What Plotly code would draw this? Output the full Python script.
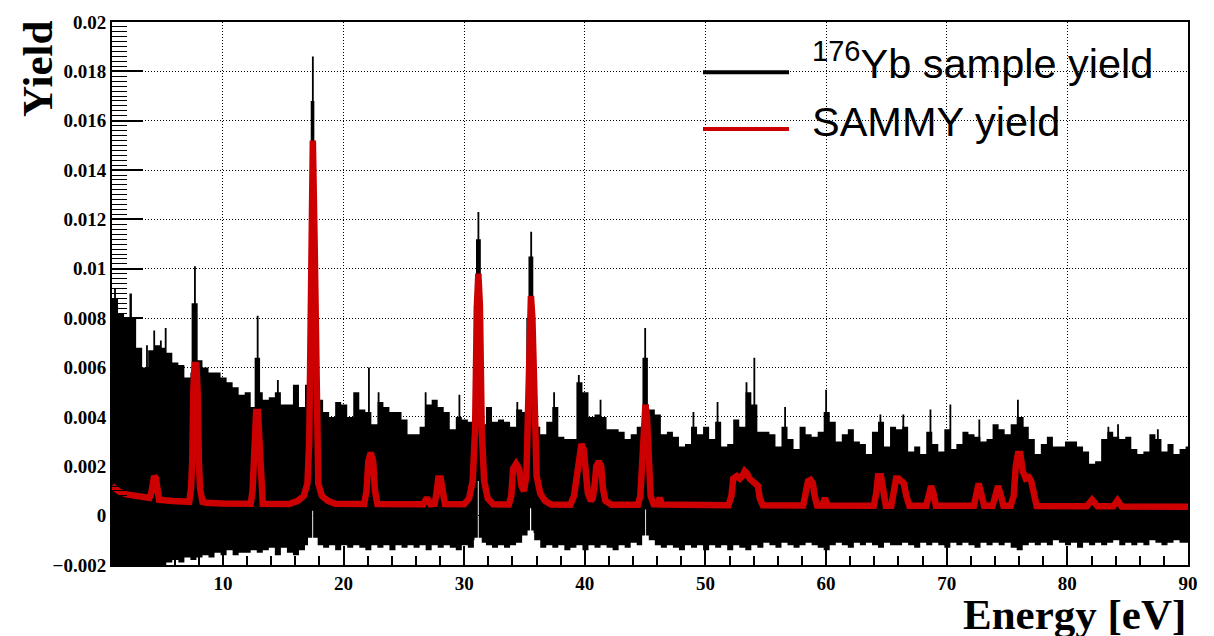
import numpy as np
import plotly.graph_objects as go

# ---------------------------------------------------------------------------
# Measured 176Yb sample yield: upper / lower edge of the error band,
# 0.5 eV bins starting at 0.8 eV
# ---------------------------------------------------------------------------
bin_start = 0.8
bin_width = 0.5

yield_upper = [
    0.0088, 0.0082, 0.0080, 0.0080, 0.0068, 0.0060, 0.0067, 0.0069, 0.0068, 0.0066,
    0.0062, 0.0061, 0.0056, 0.0058, 0.0063, 0.0060, 0.0058, 0.0058, 0.0056, 0.0054,
    0.0052, 0.0049, 0.0050, 0.0044, 0.0050, 0.0047, 0.0048, 0.0050, 0.0045, 0.0045,
    0.0053, 0.0044, 0.0053, 0.0058, 0.0047, 0.0042, 0.0040, 0.0046, 0.0045, 0.0040,
    0.0050, 0.0043, 0.0042, 0.0037, 0.0046, 0.0044, 0.0042, 0.0042, 0.0039, 0.0033,
    0.0033, 0.0036, 0.0045, 0.0047, 0.0044, 0.0042, 0.0035, 0.0040, 0.0039, 0.0038,
    0.0046, 0.0037, 0.0044, 0.0038, 0.0039, 0.0038, 0.0036, 0.0043, 0.0042, 0.0050,
    0.0036, 0.0033, 0.0038, 0.0044, 0.0032, 0.0031, 0.0031, 0.0054, 0.0050, 0.0040,
    0.0041, 0.0040, 0.0035, 0.0035, 0.0034, 0.0031, 0.0033, 0.0036, 0.0045, 0.0043,
    0.0041, 0.0033, 0.0034, 0.0032, 0.0028, 0.0029, 0.0036, 0.0033, 0.0036, 0.0031,
    0.0038, 0.0028, 0.0029, 0.0039, 0.0036, 0.0050, 0.0045, 0.0034, 0.0034, 0.0033,
    0.0028, 0.0036, 0.0031, 0.0027, 0.0036, 0.0033, 0.0032, 0.0034, 0.0042, 0.0038,
    0.0030, 0.0033, 0.0035, 0.0030, 0.0029, 0.0025, 0.0034, 0.0038, 0.0028, 0.0036,
    0.0035, 0.0036, 0.0026, 0.0028, 0.0025, 0.0034, 0.0029, 0.0026, 0.0035, 0.0027,
    0.0029, 0.0034, 0.0033, 0.0032, 0.0030, 0.0031, 0.0037, 0.0035, 0.0033, 0.0037,
    0.0040, 0.0036, 0.0031, 0.0025, 0.0029, 0.0032, 0.0028, 0.0028, 0.0030, 0.0030,
    0.0028, 0.0026, 0.0021, 0.0022, 0.0031, 0.0034, 0.0032, 0.0031, 0.0032, 0.0027,
    0.0025, 0.0026, 0.0033, 0.0031, 0.0026, 0.0029, 0.0025, 0.0027, 0.0028,
]

yield_lower = [
    -0.0022, -0.0022, -0.0022, -0.0022, -0.0022, -0.0022, -0.0022, -0.0022, -0.0020, -0.0019,
    -0.0018, -0.0019, -0.0017, -0.0018, -0.0017, -0.0016, -0.0017, -0.0015, -0.0016, -0.0014,
    -0.0016, -0.0015, -0.0015, -0.0014, -0.0015, -0.0014, -0.0013, -0.0016, -0.0013, -0.0015,
    -0.0016, -0.0014, -0.0012, -0.0011, -0.0012, -0.0013, -0.0012, -0.0014, -0.0012, -0.0013,
    -0.0012, -0.0013, -0.0014, -0.0012, -0.0013, -0.0012, -0.0014, -0.0012, -0.0013, -0.0012,
    -0.0013, -0.0012, -0.0014, -0.0012, -0.0013, -0.0012, -0.0013, -0.0014, -0.0012, -0.0013,
    -0.0010, -0.0011, -0.0012, -0.0013, -0.0012, -0.0013, -0.0012, -0.0011, -0.0008, -0.0007,
    -0.0010, -0.0013, -0.0012, -0.0013, -0.0012, -0.0014, -0.0013, -0.0012, -0.0014, -0.0012,
    -0.0013, -0.0012, -0.0013, -0.0014, -0.0012, -0.0013, -0.0011, -0.0012, -0.0008, -0.0010,
    -0.0012, -0.0013, -0.0012, -0.0013, -0.0014, -0.0012, -0.0013, -0.0012, -0.0014, -0.0012,
    -0.0013, -0.0012, -0.0014, -0.0012, -0.0013, -0.0014, -0.0012, -0.0013, -0.0011, -0.0012,
    -0.0013, -0.0011, -0.0012, -0.0013, -0.0012, -0.0011, -0.0012, -0.0013, -0.0014, -0.0012,
    -0.0011, -0.0012, -0.0013, -0.0011, -0.0012, -0.0011, -0.0012, -0.0013, -0.0011, -0.0012,
    -0.0012, -0.0011, -0.0012, -0.0013, -0.0011, -0.0012, -0.0011, -0.0012, -0.0013, -0.0011,
    -0.0012, -0.0011, -0.0012, -0.0013, -0.0011, -0.0012, -0.0011, -0.0012, -0.0011, -0.0013,
    -0.0014, -0.0012, -0.0011, -0.0012, -0.0011, -0.0012, -0.0010, -0.0011, -0.0012, -0.0011,
    -0.0013, -0.0011, -0.0012, -0.0011, -0.0012, -0.0011, -0.0010, -0.0012, -0.0011, -0.0012,
    -0.0011, -0.0012, -0.0010, -0.0011, -0.0012, -0.0011, -0.0010, -0.0011, -0.0011,
]

# Narrow excursions of the upper edge (resonances and single-bin fluctuations)
spike_energy = [1.05, 2.35, 3.7, 4.3, 4.85, 5.25,
                7.68, 7.65, 12.88, 12.85, 14.55,
                17.45, 17.43, 17.45, 22.1, 22.9, 26.8, 29.6,
                31.17, 31.17, 31.15, 32.0, 34.4,
                35.55, 35.52, 35.5, 37.45, 39.5, 39.8, 41.3,
                45.0, 45.0, 49.0, 51.0, 53.4, 54.05, 56.6, 60.0,
                64.5, 66.4, 68.65, 70.3, 72.7, 75.9, 76.3, 83.4, 84.2, 87.5]
spike_upper = [0.0092, 0.0090, 0.0069, 0.0075, 0.0071, 0.0076,
               0.0101, 0.0086, 0.0081, 0.0064, 0.0055,
               0.0186, 0.0168, 0.0120, 0.0060, 0.0050, 0.0050, 0.0049,
               0.0123, 0.0112, 0.0085, 0.0044, 0.0046,
               0.0115, 0.0105, 0.0080, 0.0050, 0.0057, 0.0050, 0.0047,
               0.0076, 0.0064, 0.0042, 0.0046, 0.0054, 0.0064, 0.0044, 0.0051,
               0.0041, 0.0041, 0.0043, 0.0045, 0.0039, 0.0047, 0.0040, 0.0036, 0.0037, 0.0035]
spike_width = [0.15, 0.2, 0.15, 0.15, 0.15, 0.15,
               0.15, 0.5, 0.15, 0.45, 0.15,
               0.15, 0.3, 0.6, 0.15, 0.15, 0.15, 0.15,
               0.15, 0.4, 0.7, 0.15, 0.15,
               0.15, 0.4, 0.7, 0.15, 0.15, 0.6, 0.15,
               0.15, 0.45, 0.15, 0.15, 0.15, 0.15, 0.15, 0.15,
               0.15, 0.15, 0.15, 0.15, 0.15, 0.15, 0.15, 0.15, 0.15, 0.15]

# Raised lower edge at the strong resonances
dip_energy = [17.45, 17.43, 31.15, 31.17, 35.5, 35.5, 45.0, 45.03]
dip_lower = [-0.0009, 0.0002, -0.0009, 0.0014, -0.0006, 0.0003, -0.0008, 0.00025]
dip_width = [0.8, 0.08, 0.6, 0.08, 0.5, 0.08, 0.5, 0.08]

# ---------------------------------------------------------------------------
# SAMMY fitted yield
# ---------------------------------------------------------------------------
sammy_energy = [
    0.8, 1.4, 2.0, 3.0, 3.9, 4.05, 4.15, 4.3, 4.45, 4.55, 4.7,
    5.8, 6.9, 7.2, 7.35, 7.45, 7.55, 7.65, 7.8, 7.9, 8.0, 8.1, 8.3,
    8.6, 10.0, 12.3, 12.45, 12.6, 12.75, 12.9, 13.05, 13.15, 13.3,
    15.5, 16.2, 16.7, 17.0, 17.15, 17.3, 17.45, 17.6, 17.75, 17.9, 18.2, 18.7, 19.3,
    21.7, 21.9, 22.05, 22.25, 22.45, 22.6, 22.8,
    26.6, 26.9, 27.2, 27.55, 27.7, 27.85, 28.05, 28.2, 28.4,
    30.0, 30.4, 30.7, 30.9, 31.05, 31.17, 31.3, 31.45, 31.65, 31.95, 32.4,
    33.7, 33.9, 34.05, 34.3, 34.55, 34.75, 34.95, 35.15, 35.3, 35.42, 35.53, 35.65,
    35.8, 36.0, 36.3, 36.7, 37.2,
    38.8, 39.1, 39.35, 39.55, 39.72, 39.9, 40.05, 40.25, 40.5, 40.65, 40.8, 40.95,
    41.15, 41.35, 41.5, 41.7, 42.2,
    44.4, 44.6, 44.75, 44.9, 45.02, 45.15, 45.3, 45.45, 45.7, 46.0, 46.2, 46.4,
    51.9, 52.15, 52.3, 52.6, 52.85, 53.05, 53.25, 53.45, 53.65, 53.9, 54.15, 54.35, 54.5, 54.75,
    58.1, 58.3, 58.5, 58.7, 58.9, 59.05, 59.25, 59.7, 59.9, 60.1,
    63.95, 64.15, 64.3, 64.55, 64.75, 64.95,
    65.4, 65.6, 65.8, 66.0, 66.2, 66.45, 66.65, 66.9,
    68.3, 68.5, 68.7, 68.9, 69.1,
    72.25, 72.45, 72.65, 72.85, 73.1,
    73.8, 74.0, 74.25, 74.5, 74.7,
    75.3, 75.55, 75.72, 75.9, 76.1, 76.3, 76.55, 76.8, 77.0, 77.2, 77.45,
    81.6, 82.05, 82.5, 83.8, 84.15, 84.5, 90.0,
]
sammy_yield = [
    0.00120, 0.00097, 0.00086, 0.00077, 0.00072, 0.0009, 0.0015, 0.0016, 0.0015, 0.0009, 0.00064,
    0.00059, 0.00056, 0.00056, 0.0011, 0.0022, 0.0052, 0.0061, 0.0061, 0.0050, 0.0022, 0.0011, 0.00056,
    0.00052, 0.00049, 0.00048, 0.0010, 0.0028, 0.0042, 0.0042, 0.0028, 0.0010, 0.00048,
    0.00047, 0.0006, 0.0008, 0.0013, 0.0030, 0.0110, 0.0152, 0.0110, 0.0030, 0.0013, 0.0008, 0.0006, 0.00048,
    0.00047, 0.0010, 0.0022, 0.00255, 0.0022, 0.0010, 0.00047,
    0.00046, 0.00072, 0.00046, 0.00048, 0.0009, 0.0015, 0.0015, 0.0009, 0.00047,
    0.00046, 0.0007, 0.0014, 0.0035, 0.0085, 0.0098, 0.0085, 0.0035, 0.0014, 0.0007, 0.00046,
    0.00045, 0.0008, 0.0019, 0.0021, 0.0019, 0.0012, 0.0010, 0.0016, 0.0040, 0.0080, 0.0089, 0.0080,
    0.0040, 0.0016, 0.0009, 0.0006, 0.00045,
    0.00044, 0.0008, 0.0018, 0.0027, 0.0029, 0.0027, 0.0017, 0.0009, 0.0006, 0.0007, 0.0012, 0.0020,
    0.0022, 0.0020, 0.0011, 0.0006, 0.00044,
    0.00044, 0.0008, 0.0020, 0.0040, 0.0045, 0.0040, 0.0018, 0.0008, 0.00046, 0.00046, 0.00072, 0.00045,
    0.00042, 0.0008, 0.0015, 0.0016, 0.0015, 0.0016, 0.0018, 0.0017, 0.0015, 0.0014, 0.0013, 0.0012, 0.0007, 0.00042,
    0.00041, 0.0008, 0.0014, 0.00145, 0.0013, 0.0008, 0.00041, 0.00041, 0.00072, 0.00041,
    0.0004, 0.0009, 0.0016, 0.0016, 0.0009, 0.0004,
    0.0004, 0.0009, 0.0015, 0.0015, 0.0014, 0.0013, 0.0008, 0.0004,
    0.0004, 0.0009, 0.0012, 0.0009, 0.0004,
    0.0004, 0.0009, 0.0013, 0.0009, 0.0004,
    0.0004, 0.0008, 0.0012, 0.0008, 0.0004,
    0.0004, 0.0008, 0.0020, 0.0025, 0.0025, 0.0018, 0.0015, 0.00155, 0.0014, 0.0008, 0.00039,
    0.00038, 0.00064, 0.00038, 0.00038, 0.00062, 0.00037, 0.00036,
]

x_tick_vals = [10, 20, 30, 40, 50, 60, 70, 80, 90]
y_tick_vals = [-0.002, 0.0, 0.002, 0.004, 0.006, 0.008, 0.010, 0.012, 0.014, 0.016, 0.018, 0.020]
y_tick_text = ["\u22120.002", "0", "0.002", "0.004", "0.006", "0.008", "0.01",
               "0.012", "0.014", "0.016", "0.018", "0.02"]

x_range = [0.8, 90.0]
y_range = [-0.002, 0.02]

# ---------------------------------------------------------------------------
# Build the filled error band on a fine energy grid
# ---------------------------------------------------------------------------
fine_step = 0.025
n_fine = int(round((x_range[1] - bin_start) / fine_step))
left = bin_start + fine_step * np.arange(n_fine)
centre = left + fine_step / 2
idx = np.clip(((centre - bin_start) // bin_width).astype(int), 0, len(yield_upper) - 1)
hi = np.array(yield_upper, dtype=float)[idx]
lo = np.array(yield_lower, dtype=float)[idx]
for e, top, w in zip(spike_energy, spike_upper, spike_width):
    m = np.abs(centre - e) <= w / 2
    hi[m] = np.maximum(hi[m], top)
for e, bot, w in zip(dip_energy, dip_lower, dip_width):
    m = np.abs(centre - e) <= w / 2
    lo[m] = np.maximum(lo[m], bot)

edges_x = np.column_stack([left, left + fine_step]).ravel()
band_x = np.concatenate([edges_x, edges_x[::-1]])
band_y = np.concatenate([np.repeat(hi, 2), np.repeat(lo, 2)[::-1]])

fig = go.Figure()
fig.add_trace(go.Scatter(
    x=band_x, y=band_y, mode="lines", fill="toself", fillcolor="black",
    line=dict(width=0, color="black"), hoverinfo="skip", showlegend=False,
))
fig.add_trace(go.Scatter(
    x=sammy_energy, y=sammy_yield, mode="lines",
    line=dict(color="#cc0000", width=6.5), showlegend=False,
))

tick_font = dict(family="Liberation Serif", size=19, color="black", weight="bold")
title_font = dict(family="Liberation Serif", size=43, color="black", weight="bold")
legend_font = dict(family="Liberation Sans", size=41.5, color="black")

fig.update_xaxes(
    range=x_range, tickvals=x_tick_vals, ticks="inside", ticklen=19, tickwidth=1.5,
    tickcolor="black", tickfont=tick_font, showline=True, linecolor="black",
    linewidth=2, mirror=True, showgrid=True, gridcolor="black", gridwidth=1,
    griddash="1px,2px", zeroline=False,
    minor=dict(dtick=2, tick0=0, ticks="inside", ticklen=9, tickwidth=1.5,
               tickcolor="black", showgrid=False),
)
fig.update_yaxes(
    range=y_range, tickvals=y_tick_vals, ticktext=y_tick_text, ticks="inside",
    ticklen=31, tickwidth=1.5, tickcolor="black", tickfont=tick_font,
    showline=True, linecolor="black", linewidth=2, mirror=True, showgrid=True,
    gridcolor="black", gridwidth=1, griddash="1px,2px", zeroline=False,
    minor=dict(dtick=0.0002, tick0=0, ticks="inside", ticklen=15, tickwidth=1,
               tickcolor="black", showgrid=False),
)

# Pixel helpers for the frame (plot area spans 112..1188 x 16..565)
L, R, T, B = 112, 1188, 16, 565


def px_x(p):
    return (p - L) / (R - L)


def px_y(p):
    return (B - p) / (B - T)


shapes = [
    dict(type="rect", xref="paper", yref="paper", x0=px_x(687), x1=px_x(1181),
         y0=px_y(153), y1=px_y(34), fillcolor="white", line=dict(width=0),
         layer="between"),
    dict(type="line", xref="paper", yref="paper", x0=px_x(703), x1=px_x(789),
         y0=px_y(66.7), y1=px_y(66.7), line=dict(color="black", width=4)),
    dict(type="line", xref="paper", yref="paper", x0=px_x(703), x1=px_x(789),
         y0=px_y(124.3), y1=px_y(124.3), line=dict(color="#cc0000", width=4)),
]

annotations = [
    dict(text="Yield", xref="paper", yref="paper", x=px_x(37.5), y=px_y(64),
         xanchor="center", yanchor="middle", textangle=-90, showarrow=False,
         font=title_font),
    dict(text="Energy [eV]", xref="paper", yref="paper", x=1.0, y=px_y(615),
         xanchor="right", yanchor="middle", showarrow=False, font=title_font),
    dict(text="<sup>176</sup>Yb sample yield", xref="paper", yref="paper",
         x=px_x(810), y=px_y(55), xanchor="left", yanchor="middle",
         showarrow=False, font=legend_font),
    dict(text="SAMMY yield", xref="paper", yref="paper", x=px_x(810),
         y=px_y(117), xanchor="left", yanchor="middle", showarrow=False,
         font=legend_font),
]

fig.update_layout(
    width=1214, height=636,
    margin=dict(l=L, r=1214 - R, t=T, b=636 - B, pad=0),
    paper_bgcolor="white", plot_bgcolor="white",
    shapes=shapes, annotations=annotations, showlegend=False,
)

fig.write_html("out.html")
